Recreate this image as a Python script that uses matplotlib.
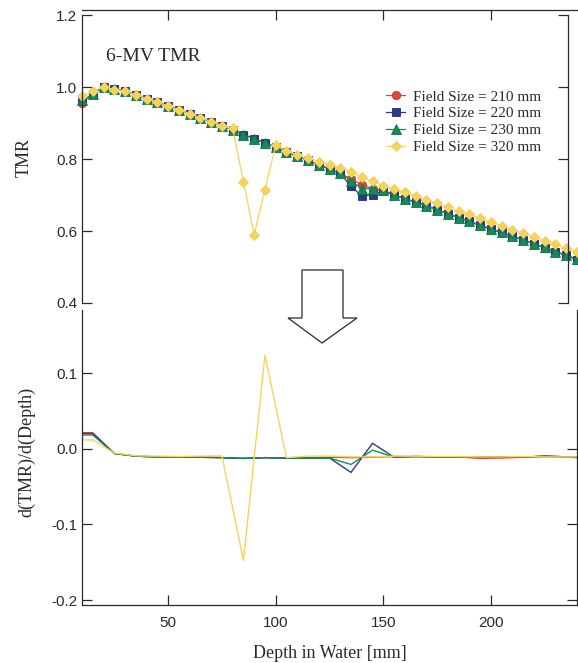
import matplotlib
matplotlib.use("Agg")
import matplotlib.pyplot as plt
from matplotlib.patches import Polygon

# depth in water [mm] for the TMR curves
depth = [10, 15, 20, 25, 30, 35, 40, 45, 50, 55, 60, 65, 70, 75, 80, 85, 90, 95,
         100, 105, 110, 115, 120, 125, 130, 135, 140, 145, 150, 155, 160, 165,
         170, 175, 180, 185, 190, 195, 200, 205, 210, 215, 220, 225, 230, 235, 240]

tmr_210 = [0.957, 0.980, 1.000, 0.995, 0.988, 0.979, 0.968, 0.958, 0.947, 0.937,
           0.926, 0.915, 0.904, 0.893, 0.881, 0.868, 0.856, 0.845, 0.833, 0.820,
           0.808, 0.796, 0.784, 0.772, 0.760, 0.745, 0.728, 0.718, 0.710, 0.700,
           0.690, 0.680, 0.670, 0.659, 0.648, 0.637, 0.627, 0.614, 0.604, 0.594,
           0.585, 0.575, 0.564, 0.553, 0.543, 0.532, 0.522]
tmr_220 = [0.960, 0.980, 1.000, 0.995, 0.988, 0.979, 0.968, 0.958, 0.947, 0.937,
           0.926, 0.915, 0.904, 0.893, 0.881, 0.868, 0.856, 0.845, 0.833, 0.820,
           0.808, 0.796, 0.784, 0.772, 0.760, 0.724, 0.697, 0.701, 0.712, 0.700,
           0.690, 0.680, 0.670, 0.659, 0.648, 0.637, 0.627, 0.616, 0.606, 0.596,
           0.585, 0.575, 0.564, 0.553, 0.543, 0.532, 0.520]
tmr_230 = [0.963, 0.980, 1.000, 0.995, 0.988, 0.979, 0.968, 0.958, 0.947, 0.937,
           0.926, 0.915, 0.904, 0.893, 0.881, 0.868, 0.856, 0.845, 0.833, 0.820,
           0.808, 0.796, 0.784, 0.772, 0.760, 0.740, 0.718, 0.717, 0.714, 0.700,
           0.690, 0.680, 0.670, 0.659, 0.648, 0.637, 0.627, 0.616, 0.606, 0.596,
           0.585, 0.575, 0.564, 0.555, 0.543, 0.532, 0.522]
tmr_320 = [0.975, 0.988, 1.000, 0.993, 0.988, 0.979, 0.968, 0.958, 0.947, 0.937,
           0.926, 0.915, 0.904, 0.893, 0.885, 0.737, 0.590, 0.715, 0.838, 0.822,
           0.812, 0.803, 0.793, 0.784, 0.776, 0.765, 0.750, 0.739, 0.726, 0.717,
           0.707, 0.697, 0.687, 0.677, 0.666, 0.656, 0.646, 0.635, 0.625, 0.615,
           0.604, 0.594, 0.584, 0.573, 0.563, 0.552, 0.542]

# derivative curves
d_depth = [10, 15, 25, 35, 45, 55, 65, 75, 85, 95, 105, 115, 125, 135, 145, 155,
           165, 175, 185, 195, 205, 215, 225, 235, 240]
d_210 = [0.0215, 0.0215, -0.006, -0.0095, -0.0105, -0.0105, -0.011, -0.0115, -0.0125,
         -0.0115, -0.012, -0.012, -0.011, -0.0115, -0.011, -0.010, -0.010, -0.0105,
         -0.0105, -0.0125, -0.012, -0.011, -0.0105, -0.0105, -0.0105]
d_220 = [0.0205, 0.0205, -0.006, -0.0095, -0.0105, -0.0105, -0.011, -0.0115, -0.0125,
         -0.0115, -0.012, -0.012, -0.012, -0.031, 0.0075, -0.011, -0.010, -0.0105,
         -0.0105, -0.0105, -0.0105, -0.011, -0.0095, -0.0105, -0.0115]
d_230 = [0.0185, 0.0185, -0.006, -0.0095, -0.0105, -0.0105, -0.011, -0.0115, -0.0125,
         -0.0115, -0.012, -0.012, -0.012, -0.0205, -0.0015, -0.011, -0.010, -0.0105,
         -0.0105, -0.0105, -0.0105, -0.011, -0.009, -0.0105, -0.0105]
d_320 = [0.012, 0.012, -0.0055, -0.009, -0.0095, -0.010, -0.0095, -0.009, -0.1475,
         0.124, -0.0115, -0.0095, -0.0095, -0.0105, -0.0105, -0.0095, -0.0095, -0.010,
         -0.010, -0.0105, -0.0105, -0.010, -0.0105, -0.0105, -0.0105]

labels = ["Field Size = 210 mm", "Field Size = 220 mm",
          "Field Size = 230 mm", "Field Size = 320 mm"]
colors = ["#e0443c", "#2f3788", "#148a5a", "#f8d35a"]
edges = ["#c23a34", "#262c6e", "#10744b", "#f2cd58"]
markers = ["o", "s", "^", "D"]
msizes = [6, 6, 6.5, 5]

W, H = 578, 663
fig = plt.figure(figsize=(W / 100, H / 100), dpi=100)
serif = "Liberation Serif"
sans = "Liberation Sans"
ink = "#2a2a2a"

ax1 = fig.add_axes([82 / W, 1 - 303 / H, 495 / W, 293 / H])
ax2 = fig.add_axes([82 / W, 1 - 605 / H, 495 / W, 295 / H])

for y, c, e, m, ms, lab in zip([tmr_210, tmr_220, tmr_230, tmr_320],
                               colors, edges, markers, msizes, labels):
    ax1.plot(depth, y, color=c, lw=0.9, marker=m, ms=ms, mfc=c, mec=e,
             mew=0.6, label=lab, clip_on=False)

for y, c in zip([d_210, d_220, d_230, d_320], colors):
    ax2.plot(d_depth, y, color=c, lw=1.0)

# top panel
ax1.set_xlim(10, 240)
ax1.set_ylim(0.4, 1.214)
ax1.set_yticks([0.4, 0.6, 0.8, 1.0, 1.2])
ax1.set_xticks([50, 100, 150, 200])
ax1.spines["bottom"].set_visible(False)
ax1.spines["left"].set_bounds(0.4, 1.2)
ax1.spines["right"].set_bounds(0.4, 1.2)
ax1.spines["right"].set_position(("data", 236))
ax1.tick_params(axis="x", which="both", bottom=False, top=True, labelbottom=False,
                direction="in", length=7, width=0.9, color=ink)
ax1.tick_params(axis="y", left=True, right=True, direction="in", length=7,
                width=0.9, color=ink, labelsize=11, labelcolor=ink)
ax1.set_yticklabels(["0.4", "0.6", "0.8", "1.0", "1.2"], family=sans)
ax1.set_ylabel("TMR", family=serif, fontsize=13, color=ink, va="center")
ax1.yaxis.set_label_coords(-0.117, 0.495)
ax1.text(0.0485, 0.84, "6-MV TMR", transform=ax1.transAxes, ha="left",
         va="center", family=serif, fontsize=14, color=ink)
ax1.legend(loc="upper left", bbox_to_anchor=(386 / W, 1 - 90 / H),
           bbox_transform=fig.transFigure, frameon=False, borderpad=0,
           borderaxespad=0, handlelength=1.25, handletextpad=0.5,
           labelspacing=0.2, prop={"family": serif, "size": 11},
           labelcolor=ink)

# bottom panel
ax2.set_xlim(10, 240)
ax2.set_ylim(-0.2066, 0.184)
ax2.set_xticks([50, 100, 150, 200])
ax2.set_yticks([-0.2, -0.1, 0.0, 0.1])
ax2.set_yticklabels(["-0.2", "-0.1", "0.0", "0.1"], family=sans)
ax2.set_xticklabels(["50", "100", "150", "200"], family=sans)
ax2.spines["top"].set_visible(False)
ax2.tick_params(axis="x", direction="in", length=7, width=0.9, color=ink,
                labelsize=11, labelcolor=ink, pad=8)
ax2.tick_params(axis="y", left=True, right=True, direction="in", length=7,
                width=0.9, color=ink, labelsize=11, labelcolor=ink)
ax2.set_ylabel("d(TMR)/d(Depth)", family=serif, fontsize=13, color=ink,
               va="center")
ax2.yaxis.set_label_coords(-0.111, 0.519)
ax2.set_xlabel("Depth in Water [mm]", family=serif, fontsize=13, color=ink,
               va="center")
ax2.xaxis.set_label_coords(0.5, -0.163)

for ax in (ax1, ax2):
    for s in ax.spines.values():
        s.set_color(ink)
        s.set_linewidth(0.9)

# hollow arrow between the panels
pts = [(302, 270), (343, 270), (343, 318), (357, 318), (322, 343),
       (288, 318), (302, 318)]
arrow = Polygon([(x / W, 1 - y / H) for x, y in pts], closed=True,
                transform=fig.transFigure, facecolor="white",
                edgecolor=ink, lw=0.9, zorder=5)
fig.add_artist(arrow)

fig.savefig("out.png", dpi=100)
